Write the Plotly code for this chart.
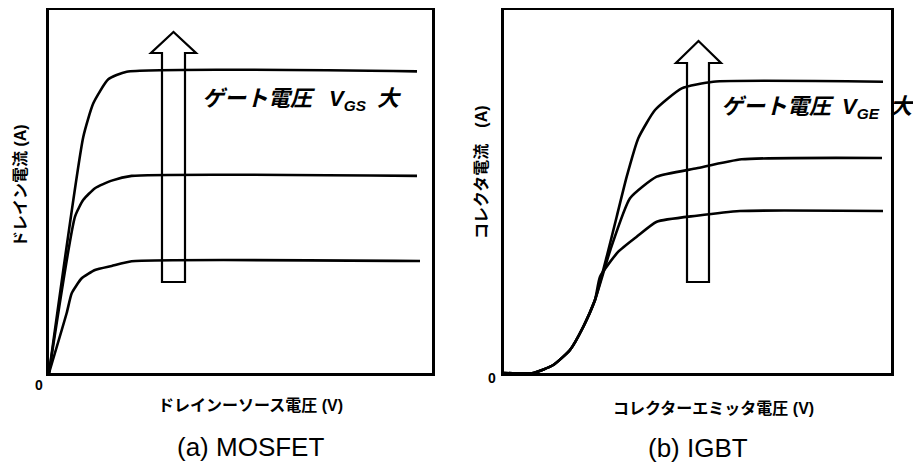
import plotly.graph_objects as go

# page body has an 8px margin; figure is sized/offset to compensate
OFF = 8
W, H = 921 - OFF, 466 - OFF

# ---- data (arbitrary units 0..10 on both axes) ----
mos_top_x = [0, 0.896, 1.157, 1.548, 2.029, 9.608]
mos_top_y = [0, 6.51, 7.43, 8.09, 8.30, 8.31]
mos_mid_x = [0, 0.679, 0.896, 1.201, 1.637, 2.159, 9.608]
mos_mid_y = [0, 4.31, 4.77, 5.09, 5.30, 5.43, 5.43]
mos_low_x = [0, 0.462, 0.593, 0.854, 1.201, 1.637, 2.159, 9.687]
mos_low_y = [0, 1.653, 2.196, 2.609, 2.837, 2.948, 3.077, 3.085]

igbt_common_x = [0, 0.757, 1.274, 1.705, 2.049, 2.351]
igbt_common_y = [0, 0, 0.220, 0.634, 1.275, 2.011]
igbt_top_x = [2.654, 2.912, 3.171, 3.470, 3.902, 4.592, 5.408, 9.793]
igbt_top_y = [3.204, 4.306, 5.408, 6.466, 7.245, 7.843, 8.025, 8.025]
igbt_mid_x = [2.747, 3.256, 3.946, 4.979, 6.142, 9.767]
igbt_mid_y = [3.388, 4.813, 5.408, 5.639, 5.887, 5.923]
igbt_low_x = [2.481, 2.953, 3.429, 3.946, 4.979, 6.098, 9.793]
igbt_low_y = [2.653, 3.342, 3.755, 4.168, 4.333, 4.463, 4.463]

# block arrows: [x_left, x_right, bottom, shaft_top, wing_left, wing_right, tip]
mos_arrow = [2.950, 3.551, 2.507, 8.815, 2.663, 3.838, 9.394]
igbt_arrow = [4.729, 5.297, 2.507, 8.540, 4.444, 5.607, 9.146]

# texts
mos_xtitle = "ドレインーソース電圧 (V)"
mos_ytitle = "ドレイン電流 (A)"
igbt_xtitle = "コレクターエミッタ電圧 (V)"
igbt_ytitle = "コレクタ電流\u3000(A)"
mos_label = "<b><i>ゲート電圧\u2002 V<sub>GS</sub>\u2002大</i></b>"
igbt_label = "<b><i>ゲート電圧\u2002V<sub>GE</sub>\u2002大</i></b>"
mos_caption = "(a) MOSFET"
igbt_caption = "(b) IGBT"

FONT = "Liberation Sans, Arial, Noto Sans CJK JP"
LINE = dict(color="black", width=2.6)

fig = go.Figure()

def add_curve(x, y, xa, ya):
    fig.add_trace(go.Scatter(x=x, y=y, mode="lines", line=dict(LINE, shape="spline", smoothing=0.5),
                             xaxis=xa, yaxis=ya, showlegend=False, hoverinfo="skip"))

add_curve(mos_top_x, mos_top_y, "x", "y")
add_curve(mos_mid_x, mos_mid_y, "x", "y")
add_curve(mos_low_x, mos_low_y, "x", "y")
add_curve(igbt_common_x + igbt_top_x, igbt_common_y + igbt_top_y, "x2", "y2")
add_curve(igbt_common_x + igbt_mid_x, igbt_common_y + igbt_mid_y, "x2", "y2")
add_curve(igbt_common_x + igbt_low_x, igbt_common_y + igbt_low_y, "x2", "y2")

def arrow_path(a):
    xl, xr, yb, ys, wl, wr, yt = a
    xc = (wl + wr) / 2
    return (f"M {xl} {yb} L {xr} {yb} L {xr} {ys} L {wr} {ys} L {xc} {yt} "
            f"L {wl} {ys} L {xl} {ys} Z")

for a, xr, yr in [(mos_arrow, "x", "y"), (igbt_arrow, "x2", "y2")]:
    fig.add_shape(type="path", path=arrow_path(a), xref=xr, yref=yr,
                  line=dict(color="black", width=2.2), fillcolor="rgba(0,0,0,0)", layer="above")

ax = dict(range=[0, 10], showgrid=False, zeroline=False, showticklabels=False, ticks="",
          showline=True, mirror=True, linecolor="black", linewidth=3, fixedrange=True)

def pxx(px):
    return (px - OFF) / W

def pxy(py):
    return 1 - (py - OFF) / H

fig.update_layout(
    width=W, height=H, margin=dict(l=0, r=0, t=0, b=0),
    paper_bgcolor="white", plot_bgcolor="white",
    xaxis=dict(ax, domain=[pxx(49), pxx(432)]),
    yaxis=dict(ax, domain=[pxy(373), pxy(10)]),
    xaxis2=dict(ax, domain=[pxx(504), pxx(891)], anchor="y2"),
    yaxis2=dict(ax, domain=[pxy(373), pxy(10)], anchor="x2"),
)

def ann(text, px, py, size, bold=False, angle=0, xanchor="center"):
    fig.add_annotation(text=f"<b>{text}</b>" if bold else text, x=pxx(px), y=pxy(py),
                       xref="paper", yref="paper", showarrow=False, textangle=angle,
                       xanchor=xanchor, yanchor="middle",
                       font=dict(family=FONT, size=size, color="black"))

ann(mos_label, 302, 100, 22)
ann(igbt_label, 818, 108, 22)
ann(mos_xtitle, 250, 405, 16, bold=True)
ann(igbt_xtitle, 713, 408, 16, bold=True)
ann(mos_ytitle, 20, 186, 16, bold=True, angle=-90)
ann(igbt_ytitle, 482, 172, 16, bold=True, angle=-90)
ann("0", 39, 385, 14, bold=True)
ann("0", 492, 378, 14, bold=True)
ann(mos_caption, 250, 447, 26)
ann(igbt_caption, 698, 448, 26)

fig.write_html("out.html")
